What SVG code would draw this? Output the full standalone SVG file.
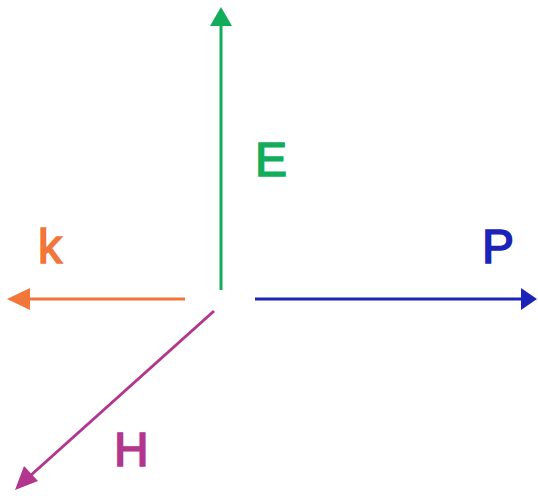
<svg xmlns="http://www.w3.org/2000/svg" width="538" height="496" viewBox="0 0 538 496">
<style>
.lbl{font-family:"Liberation Sans",Arial,sans-serif;font-weight:normal;font-size:48px;stroke-width:1.6}
.ln{stroke-width:3;fill:none}
</style>
<rect width="538" height="496" fill="#ffffff"/>
<g id="connectors">
<line class="ln" x1="221" y1="290" x2="221" y2="24" stroke="#12ad5a"/>
<polygon points="221,7 210,26 232,26" fill="#12ad5a"/>
<line class="ln" x1="185" y1="299" x2="28" y2="299" stroke="#f2753a"/>
<polygon points="7,299 30,288 30,310" fill="#f2753a"/>
<line class="ln" x1="255" y1="299" x2="522" y2="299" stroke="#1c23b8"/>
<polygon points="537,299 521,288 521,310" fill="#1c23b8"/>
<line class="ln" x1="214" y1="311" x2="30" y2="476" stroke="#b2368e"/>
<polygon points="15,490 24,466 38,481" fill="#b2368e"/>
</g>
<g id="E"><text class="lbl" x="255" y="176" fill="#12ad5a" stroke="#12ad5a">E</text></g>
<g id="k"><text class="lbl" x="38" y="263" fill="#f2753a" stroke="#f2753a">k</text></g>
<g id="P"><text class="lbl" x="482" y="263" fill="#1c23b8" stroke="#1c23b8">P</text></g>
<g id="H"><text class="lbl" x="114" y="466" fill="#b2368e" stroke="#b2368e">H</text></g>
</svg>
